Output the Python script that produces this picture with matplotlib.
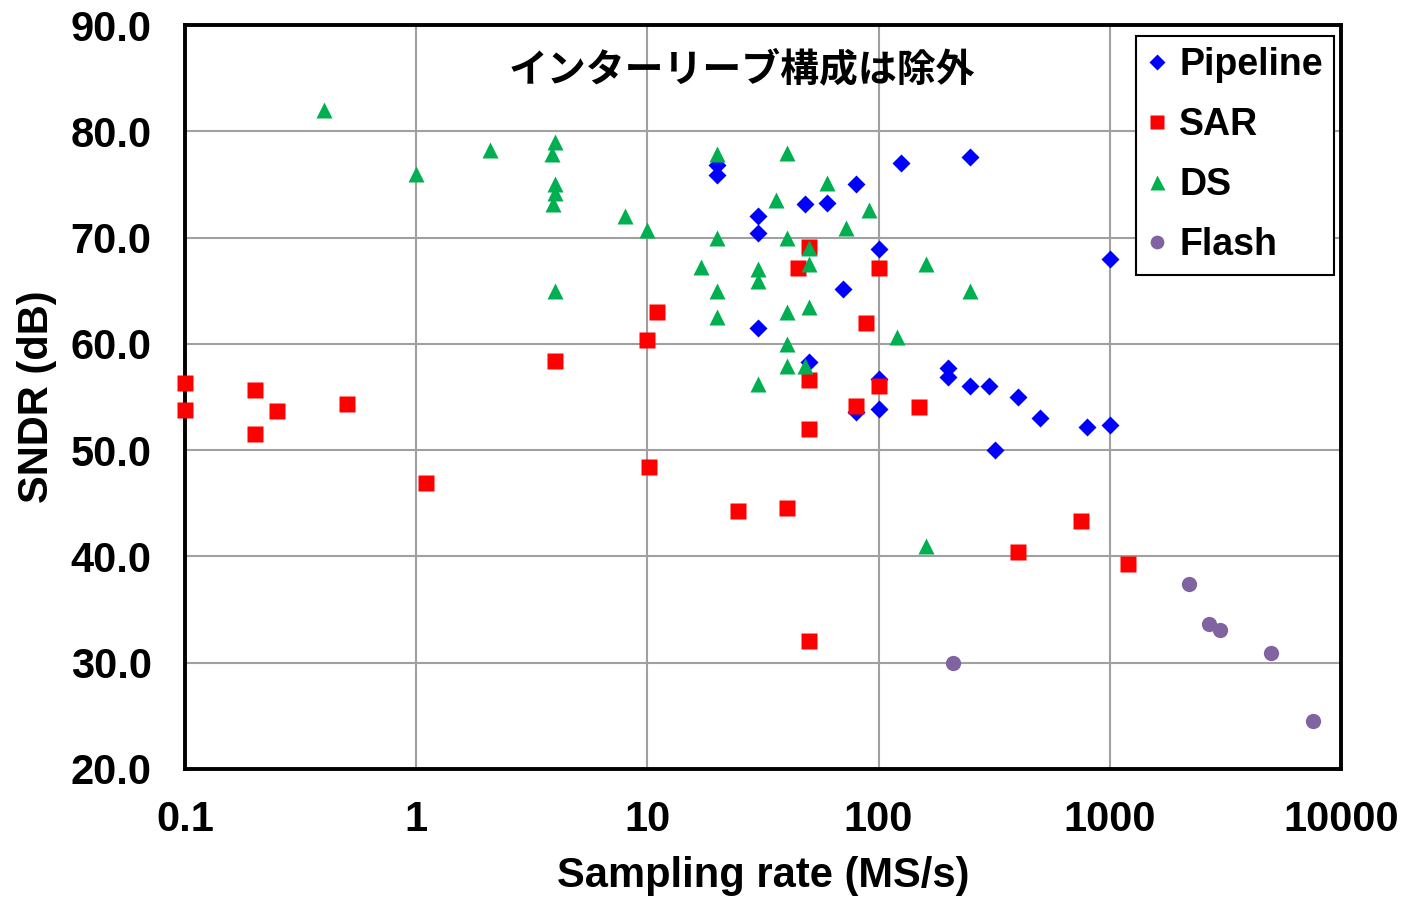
import matplotlib
matplotlib.use("Agg")
import matplotlib.pyplot as plt
from matplotlib.ticker import FixedLocator, FixedFormatter, FormatStrFormatter

plt.rcParams['font.family'] = ['Liberation Sans', 'Noto Sans CJK JP', 'DejaVu Sans']

# sampling rate (MS/s) and SNDR (dB) per architecture
pipe_fs = [20, 20, 30, 30, 48, 60, 80, 125, 250, 1000, 100, 70, 30, 50,
           100, 100, 80, 200, 200, 250, 300, 400, 500, 800, 1000, 320]
pipe_sndr = [76.8, 75.9, 72.0, 70.4, 73.2, 73.3, 75.0, 77.0, 77.6, 68.0, 68.9, 65.2, 61.5, 58.3,
             56.7, 53.9, 53.6, 57.7, 56.9, 56.0, 56.0, 55.0, 53.0, 52.2, 52.4, 50.0]

sar_fs = [0.1, 0.1, 0.2, 0.2, 0.25, 0.5, 1.1, 4.0, 10, 11, 10.2, 24.7, 40, 50,
          45, 50, 50, 50, 80, 88, 100, 100, 150, 400, 750, 1200]
sar_sndr = [56.3, 53.8, 55.7, 51.5, 53.7, 54.3, 46.9, 58.4, 60.4, 63.0, 48.4, 44.3, 44.6, 32.0,
            67.1, 69.1, 56.6, 52.0, 54.2, 62.0, 67.1, 56.0, 54.1, 40.4, 43.3, 39.3]

ds_fs = [0.4, 1, 2.08, 4.0, 3.85, 4.0, 4.0, 3.9, 8, 4.0, 10, 20, 40, 20, 40, 36,
         60, 72, 91, 17, 30, 30, 20, 40, 50, 20, 40, 40, 48, 30, 50, 50, 160,
         250, 120, 160]
ds_sndr = [82.0, 76.0, 78.2, 79.0, 77.9, 75.0, 74.2, 73.2, 72.0, 65.0, 70.7, 77.9, 78.0, 70.0, 70.0, 73.5,
           75.1, 70.9, 72.6, 67.2, 67.0, 65.9, 65.0, 63.0, 63.5, 62.5, 60.0, 57.9, 57.9, 56.2, 69.0, 67.5, 67.5,
           65.0, 60.6, 41.0]

flash_fs = [210, 2200, 2700, 3000, 5000, 7600]
flash_sndr = [30.0, 37.4, 33.6, 33.1, 30.9, 24.5]

x_ticks = [0.1, 1, 10, 100, 1000, 10000]
x_labels = ['0.1', '1', '10', '100', '1000', '10000']
y_ticks = [20, 30, 40, 50, 60, 70, 80, 90]

fig = plt.figure(figsize=(14.04, 8.97), dpi=100)
ax = fig.add_axes([0.1318, 0.1427, 0.8232, 0.8294])

style = dict(linestyle='none', mec='none', clip_on=False)
ax.plot(pipe_fs, pipe_sndr, 'D', color='#0000ff', markersize=9.5, label='Pipeline', zorder=3, **style)
ax.plot(sar_fs, sar_sndr, 's', color='#ff0000', markersize=11.5, label='SAR', zorder=4, **style)
ax.plot(ds_fs, ds_sndr, '^', color='#00b050', markersize=12, label='DS', zorder=5, **style)
ax.plot(flash_fs, flash_sndr, 'o', color='#8064a2', markersize=11, label='Flash', zorder=3, **style)

ax.set_xscale('log')
ax.set_xlim(0.1, 10000)
ax.set_ylim(20, 90)
ax.xaxis.set_major_locator(FixedLocator(x_ticks))
ax.xaxis.set_major_formatter(FixedFormatter(x_labels))
ax.xaxis.set_minor_locator(FixedLocator([]))
ax.yaxis.set_major_locator(FixedLocator(y_ticks))
ax.yaxis.set_major_formatter(FormatStrFormatter('%.1f'))

ax.grid(True, color='#a0a0a0', linewidth=1.5, zorder=0)
ax.set_axisbelow(True)
for sp in ax.spines.values():
    sp.set_linewidth(2.8)
    sp.set_color('black')

ax.tick_params(axis='both', length=0, labelsize=30)
ax.tick_params(axis='y', pad=24)
ax.tick_params(axis='x', pad=22)
for lbl in ax.get_xticklabels() + ax.get_yticklabels():
    lbl.set_fontweight('bold')

ax.set_xlabel('Sampling rate (MS/s)', fontsize=30, fontweight='bold', labelpad=12)
ax.set_ylabel('SNDR (dB)', fontsize=30, fontweight='bold', labelpad=10)

ax.text(0.482, 0.94, 'インターリーブ構成は除外', transform=ax.transAxes,
        ha='center', va='center', fontsize=28, fontweight='bold',
        family=['Noto Sans CJK JP', 'DejaVu Sans'])

leg = ax.legend(loc='upper right', bbox_to_anchor=(0.994, 0.985),
                prop={'weight': 'bold', 'size': 27}, markerscale=0.9,
                handlelength=0.5, handletextpad=0.35, labelspacing=0.64,
                borderpad=0.3, borderaxespad=0.0, fancybox=False, framealpha=1)
leg.get_frame().set_edgecolor('black')
leg.get_frame().set_linewidth(1.5)

fig.savefig('out.png', dpi=100)
